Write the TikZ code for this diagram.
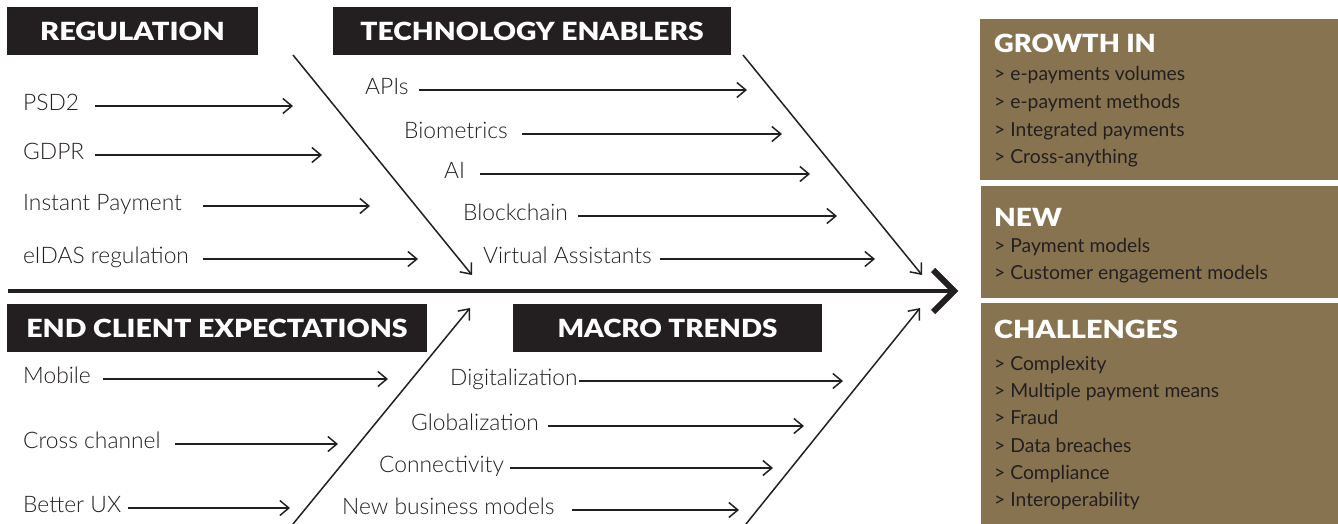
\documentclass[tikz,border=0pt]{standalone}
\usepackage{fontspec}
\setmainfont{Lato}
\newfontfamily\lightf{Lato Light}
\newfontfamily\blackf{Lato Black}
\usetikzlibrary{arrows.meta}
\definecolor{ink}{HTML}{231F20}
\definecolor{panel}{HTML}{877350}
\newcommand{\hdrtext}[2][1.14]{\scalebox{#1}[1]{#2}}
\begin{document}
\begin{tikzpicture}[x=1pt,y=-1pt,
  hdrbox/.style={fill=ink, inner sep=0pt, minimum height=48pt, text=white,
    font=\blackf\fontsize{25}{25}\selectfont},
  lbl/.style={anchor=west, inner sep=0pt, text height=16pt, text depth=7pt,
    text=ink, font=\lightf\fontsize{22.8}{22.8}\selectfont},
  arr/.style={-{Straight Barb[length=9pt,width=15pt,line width=1.5pt]}, line width=1.5pt, draw=ink},
  panelbox/.style={fill=panel, inner sep=0pt},
  phdr/.style={anchor=base west, inner sep=0pt, text=white, font=\blackf\fontsize{25}{25}\selectfont},
  pitem/.style={anchor=base west, inner sep=0pt, text=ink, font=\fontsize{19.3}{19.3}\selectfont},
]
\useasboundingbox (0,0) rectangle (1338,524);

% header boxes
\node[hdrbox, minimum width=251pt] (reg) at (132.5,31) {\hdrtext[1.16]{REGULATION}};
\node[hdrbox, minimum width=398pt] (tech) at (532,31) {\hdrtext[1.13]{TECHNOLOGY ENABLERS}};
\node[hdrbox, minimum width=420pt] (endc) at (217,328) {\hdrtext[1.14]{END CLIENT EXPECTATIONS}};
\node[hdrbox, minimum width=309pt] (macro) at (667.5,328) {\hdrtext[1.11]{MACRO TRENDS}};

% spine
\coordinate (sp0) at (8,291);
\coordinate (sp1) at (953,291);
\draw[line width=3.2pt, draw=ink] (sp0) -- (sp1);
\coordinate (ch0) at (933,270);
\coordinate (ch1) at (954,291);
\coordinate (ch2) at (933,312);
\draw[line width=6pt, draw=ink, miter limit=10] (ch0) -- (ch1) -- (ch2);

% bones
\coordinate (rb0) at (293,55);  \coordinate (rb1) at (472,275);
\coordinate (tb0) at (743,55);  \coordinate (tb1) at (922,275);
\coordinate (eb0) at (293,524); \coordinate (eb1) at (470,308);
\coordinate (mb0) at (746,524); \coordinate (mb1) at (920,308);
\draw[arr] (rb0) -- (rb1);
\draw[arr] (tb0) -- (tb1);
\draw[arr] (eb0) -- (eb1);
\draw[arr] (mb0) -- (mb1);

% labels with arrows
\foreach \n/\t/\x/\y/\a/\b in {
  psd2/PSD2/23/106/95/293,
  gdpr/GDPR/23/155/95/322,
  inst/Instant Payment/23/206/203/370,
  eidas/eIDAS regulation/23/259/203/418,
  apis/APIs/365/90/419/747,
  bio/Biometrics/404/134/522/782,
  ai/AI/444/174/480/810,
  block/Blockchain/463/216/578/837,
  va/Virtual Assistants/483/259/660/875,
  mob/Mobile/23/379/103/388,
  cross/Cross channel/23/444/175/338,
  ux/Better UX/23/508/128/290,
  dig/Digitalization/450/381/579/843,
  glob/Globalization/411/426/548/804,
  conn/Connectivity/379/468/510/773,
  nbm/New business models/342/510/572/739}
{
  \node[lbl] (\n) at (\x,\y) {\t};
  \draw[arr] (\a,0 |- \n.east) -- (\b,0 |- \n.east);
}

% right panel
\node[panelbox, minimum width=358pt, minimum height=161pt] (growth) at (1159,99.5) {};
\node[panelbox, minimum width=357pt, minimum height=112pt] (newb) at (1159.5,242) {};
\node[panelbox, minimum width=357pt, minimum height=221pt] (chal) at (1159.5,413.5) {};

\node[phdr] (gh) at (994,53) {\hdrtext[1.09]{GROWTH IN}};
\node[pitem] (g1) at (994,81) {> e-payments volumes};
\node[pitem] (g2) at (994,108.5) {> e-payment methods};
\node[pitem] (g3) at (994,136) {> Integrated payments};
\node[pitem] (g4) at (994,163) {> Cross-anything};

\node[phdr] (nh) at (994,226) {\hdrtext[1.12]{NEW}};
\node[pitem] (n1) at (994,252) {> Payment models};
\node[pitem] (n2) at (994,279) {> Customer engagement models};

\node[phdr] (chh) at (994,338) {\hdrtext[1.15]{CHALLENGES}};
\node[pitem] (c1) at (994,370) {> Complexity};
\node[pitem] (c2) at (994,397) {> Multiple payment means};
\node[pitem] (c3) at (994,424) {> Fraud};
\node[pitem] (c4) at (994,452) {> Data breaches};
\node[pitem] (c5) at (994,479) {> Compliance};
\node[pitem] (c6) at (994,506) {> Interoperability};
\end{tikzpicture}
\end{document}
